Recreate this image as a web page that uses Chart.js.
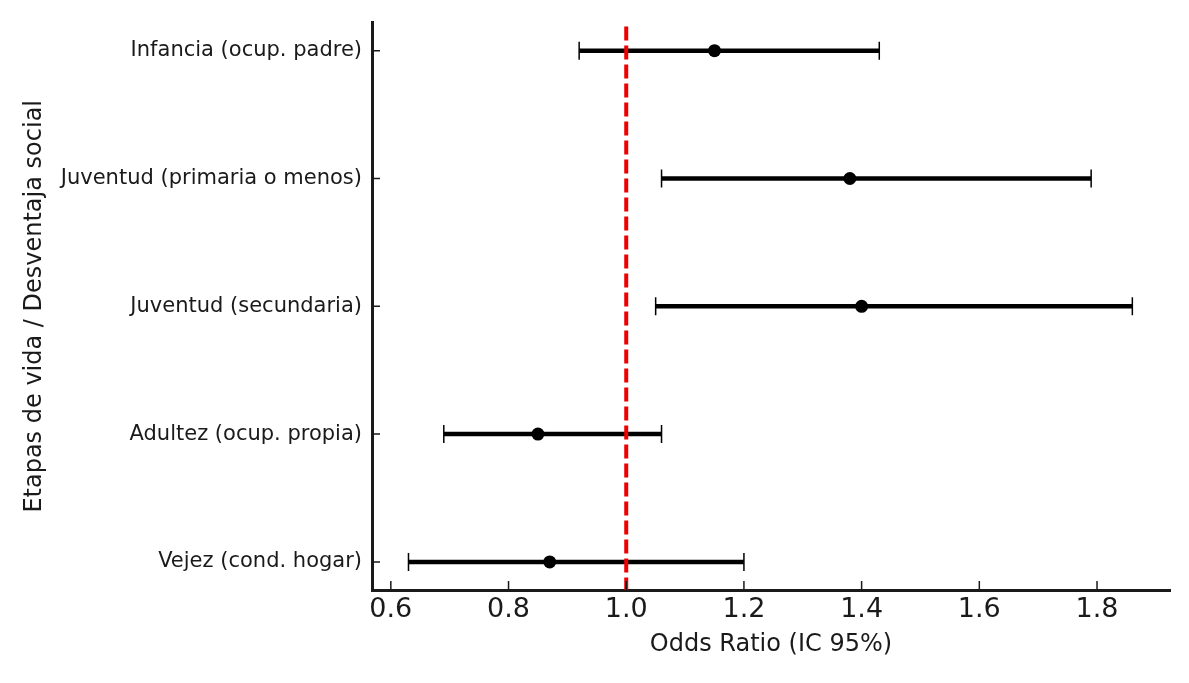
<!DOCTYPE html>
<html>
<head>
<meta charset="utf-8">
<script src="https://cdn.jsdelivr.net/npm/chart.js@4"></script>
<style>
  body { margin: 0; background: #fff; }
  canvas { display: block; }
</style>
</head>
<body>
<canvas id="forest" width="1189" height="683"></canvas>
<script>
// values
const etapas = [
  'Infancia (ocup. padre)',
  'Juventud (primaria o menos)',
  'Juventud (secundaria)',
  'Adultez (ocup. propia)',
  'Vejez (cond. hogar)'
];
const oddsRatio = [1.15, 1.38, 1.40, 0.85, 0.87];
const ciLow     = [0.92, 1.06, 1.05, 0.69, 0.63];
const ciHigh    = [1.43, 1.79, 1.86, 1.06, 1.20];
const xTicks    = [0.6, 0.8, 1.0, 1.2, 1.4, 1.6, 1.8];
const refLine   = 1.0;

const xMin = 0.568, xMax = 1.924;
const yMin = -0.22, yMax = etapas.length - 1 + 0.22;
const ink = '#1a1a1a';

const datasets = [];

etapas.forEach((e, i) => {
  datasets.push({
    data: [{x: ciLow[i], y: i}, {x: ciHigh[i], y: i}],
    showLine: true,
    borderColor: '#000',
    borderWidth: 4.5,
    borderCapStyle: 'butt',
    pointStyle: 'line',
    rotation: 90,
    pointRadius: 9,
    pointBorderWidth: 1.5,
    pointBorderColor: '#000',
    order: 2
  });
});

datasets.push({
  data: [{x: refLine, y: yMin}, {x: refLine, y: yMax}],
  showLine: true,
  borderColor: '#ee0000',
  borderWidth: 4,
  borderDash: [14, 5],
  borderDashOffset: -4,
  borderCapStyle: 'butt',
  pointRadius: 0,
  order: 1
});

datasets.push({
  data: oddsRatio.map((v, i) => ({x: v, y: i})),
  showLine: false,
  pointRadius: 6.5,
  pointBackgroundColor: '#000',
  pointBorderColor: '#000',
  pointBorderWidth: 0,
  order: 0
});

// matplotlib style ticks pointing into the plot
const inwardTicks = {
  id: 'inwardTicks',
  afterDatasetsDraw(chart) {
    const {ctx, chartArea, scales} = chart;
    ctx.save();
    ctx.strokeStyle = ink;
    ctx.lineWidth = 1.5;
    ctx.beginPath();
    scales.x.ticks.forEach(t => {
      const px = scales.x.getPixelForValue(t.value);
      ctx.moveTo(px, chartArea.bottom);
      ctx.lineTo(px, chartArea.bottom - 9);
    });
    scales.y.ticks.forEach(t => {
      const py = scales.y.getPixelForValue(t.value);
      ctx.moveTo(chartArea.left, py);
      ctx.lineTo(chartArea.left + 8, py);
    });
    ctx.stroke();
    ctx.restore();
  }
};

new Chart(document.getElementById('forest'), {
  type: 'scatter',
  data: { datasets },
  plugins: [inwardTicks],
  options: {
    responsive: false,
    animation: false,
    events: [],
    layout: { padding: { top: 22, right: 19, left: 0, bottom: 0 } },
    plugins: { legend: { display: false }, tooltip: { enabled: false } },
    scales: {
      x: {
        type: 'linear',
        min: xMin,
        max: xMax,
        afterBuildTicks: s => { s.ticks = xTicks.map(v => ({value: v})); },
        afterFit: s => { s.height = 93; },
        grid: { display: false, drawTicks: false },
        border: { display: true, color: ink, width: 3 },
        ticks: {
          color: ink,
          padding: 4,
          maxRotation: 0,
          font: { family: 'DejaVu Sans', size: 27 },
          callback: v => Number(v).toFixed(1)
        },
        title: {
          display: true,
          text: 'Odds Ratio (IC 95%)',
          color: ink,
          font: { family: 'DejaVu Sans', size: 24 },
          padding: { top: 0, bottom: 24 }
        }
      },
      y: {
        type: 'linear',
        min: yMin,
        max: yMax,
        reverse: true,
        afterBuildTicks: s => { s.ticks = etapas.map((e, i) => ({value: i})); },
        afterFit: s => { s.width = 372; },
        grid: { display: false, drawTicks: false },
        border: { display: true, color: ink, width: 3 },
        ticks: {
          color: ink,
          padding: 10,
          font: { family: 'DejaVu Sans', size: 21 },
          callback: v => etapas[v]
        },
        title: {
          display: true,
          text: 'Etapas de vida / Desventaja social',
          color: ink,
          font: { family: 'DejaVu Sans', size: 24 },
          padding: { top: 20, bottom: 0 }
        }
      }
    }
  }
});
</script>
</body>
</html>
